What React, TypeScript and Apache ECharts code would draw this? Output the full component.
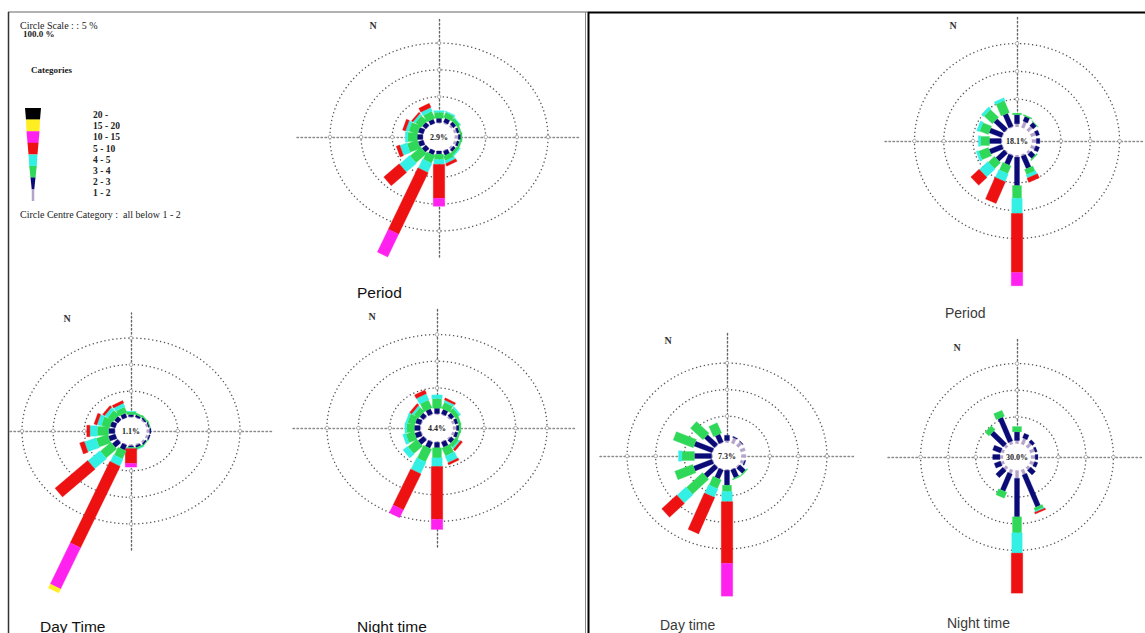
import React, { useEffect, useRef } from "react";
import * as echarts from "echarts";

// 16 wind directions, clockwise from north
const directions = ["N", "NNE", "NE", "ENE", "E", "ESE", "SE", "SSE", "S", "SSW", "SW", "WSW", "W", "WNW", "NW", "NNW"];
// wind speed categories (index = column of the frequency tables below)
const speedCategories = ["1 - 2", "2 - 3", "3 - 4", "4 - 5", "5 - 10", "10 - 15", "15 - 20", "20 -"];
const categoryColors = ["#b4a4cc", "#0b0b78", "#30d85a", "#34f0e4", "#ee1111", "#ff22ee", "#ffee22", "#000000"];
// circle scale: rings every 5 %
const ringValues = [5, 10, 15];
const centreLabels = ["2.9%", "1.1%", "4.4%", "18.1%", "7.3%", "30.0%"];
const panelTitles = ["Period", "Day Time", "Night time", "Period", "Day time", "Night time"];

// frequency (%) per direction (rows N..NNW) and per category (columns 1-2 .. 15-20)
const leftPeriod = [
  [0.2, 0.8, 1.1, 0.3, 0, 0, 0],
  [0.3, 0.8, 1.0, 0.2, 0, 0, 0],
  [0.4, 0.6, 0.6, 0.1, 0, 0, 0],
  [0.5, 0.4, 0.3, 0, 0, 0, 0],
  [0.6, 0.4, 0.2, 0, 0, 0, 0],
  [0.5, 0.4, 0.3, 0, 0, 0, 0],
  [0.4, 0.5, 0.5, 0.2, 0, 0, 0],
  [0.2, 0.8, 0.9, 0.5, 0.5, 0, 0],
  [0.1, 0.6, 1.0, 0.9, 6.3, 1.5, 0],
  [0.1, 0.8, 1.5, 1.8, 12.4, 4.6, 0],
  [0.1, 0.9, 2.4, 2.3, 3.5, 0, 0],
  [0.1, 0.9, 1.8, 1.2, 0.6, 0, 0],
  [0.1, 0.9, 1.5, 0.4, 0, 0, 0],
  [0.1, 0.9, 1.5, 0.5, 0.5, 0, 0],
  [0.1, 0.8, 1.3, 0.4, 0.3, 0, 0],
  [0.1, 0.8, 1.4, 0.7, 0.8, 0, 0],
];
const leftDay = [
  [0.2, 0.4, 0.5, 0.1, 0, 0, 0],
  [0.2, 0.4, 0.3, 0, 0, 0, 0],
  [0.3, 0.3, 0.2, 0, 0, 0, 0],
  [0.4, 0.2, 0.1, 0, 0, 0, 0],
  [0.5, 0.2, 0, 0, 0, 0, 0],
  [0.5, 0.2, 0, 0, 0, 0, 0],
  [0.4, 0.3, 0.1, 0, 0, 0, 0],
  [0.3, 0.4, 0.3, 0.1, 0, 0, 0],
  [0.3, 0.3, 0.1, 0.1, 2.8, 0.7, 0],
  [0.2, 1.0, 1.6, 1.4, 16.6, 8.4, 0.8],
  [0.2, 1.2, 2.4, 2.7, 7.4, 0, 0],
  [0.1, 1.2, 2.0, 2.0, 0.8, 0, 0],
  [0.1, 1.0, 1.8, 1.2, 0.5, 0, 0],
  [0.1, 0.9, 1.4, 0.7, 0.5, 0, 0],
  [0.1, 0.8, 1.2, 0.6, 0.4, 0, 0],
  [0.1, 0.8, 1.1, 0.7, 0.5, 0, 0],
];
const leftNight = [
  [0.2, 1.0, 1.8, 0.7, 0, 0, 0],
  [0.2, 0.9, 1.2, 0.4, 0.4, 0, 0],
  [0.3, 0.7, 0.8, 0.3, 0, 0, 0],
  [0.5, 0.5, 0.4, 0, 0, 0, 0],
  [0.6, 0.4, 0.3, 0, 0, 0, 0],
  [0.5, 0.5, 0.3, 0, 0, 0, 0],
  [0.3, 0.7, 0.7, 0.3, 0.4, 0, 0],
  [0.2, 1.0, 1.6, 1.3, 0.4, 0, 0],
  [0.2, 1.0, 1.9, 1.6, 9.9, 1.9, 0],
  [0.2, 1.2, 2.6, 2.3, 7.3, 1.6, 0],
  [0.2, 1.2, 2.0, 1.0, 0, 0, 0],
  [0.2, 1.0, 1.4, 0.5, 0, 0, 0],
  [0.2, 0.9, 1.2, 0.3, 0, 0, 0],
  [0.2, 0.9, 1.2, 0.3, 0, 0, 0],
  [0.2, 0.8, 1.0, 0.4, 0.4, 0, 0],
  [0.2, 1.0, 1.6, 1.2, 0.7, 0, 0],
];
const rightPeriod = [
  [0.6, 1.6, 0.3, 0, 0, 0, 0],
  [1.2, 0.9, 0.2, 0, 0, 0, 0],
  [1.0, 0.8, 0.1, 0, 0, 0, 0],
  [0.9, 0.6, 0, 0, 0, 0, 0],
  [0.8, 0.6, 0, 0, 0, 0, 0],
  [0.8, 0.7, 0, 0, 0, 0, 0],
  [0.5, 1.0, 0.2, 0, 0, 0, 0],
  [0.3, 2.4, 1.0, 0.6, 0.8, 0, 0],
  [0.4, 5.1, 2.3, 2.7, 10.6, 2.4, 0],
  [0.2, 1.8, 1.5, 1.5, 4.2, 0, 0],
  [0.2, 2.0, 1.5, 2.0, 2.0, 0, 0],
  [0.2, 2.3, 1.8, 0.4, 0, 0, 0],
  [0.2, 2.0, 1.5, 0.4, 0, 0, 0],
  [0.2, 2.3, 1.6, 0.5, 0, 0, 0],
  [0.2, 2.5, 2.0, 0.5, 0, 0, 0],
  [0.2, 2.5, 2.3, 0.5, 0, 0, 0],
];
const rightDay = [
  [0.4, 1.0, 0, 0, 0, 0, 0],
  [1.1, 0.2, 0, 0, 0, 0, 0],
  [1.0, 0.1, 0, 0, 0, 0, 0],
  [0.9, 0, 0, 0, 0, 0, 0],
  [0.8, 0, 0, 0, 0, 0, 0],
  [0.7, 0.2, 0, 0, 0, 0, 0],
  [0.3, 1.4, 0.2, 0, 0, 0, 0],
  [0.2, 1.6, 0.2, 0, 0, 0, 0],
  [0.2, 2.8, 1.2, 1.9, 11.6, 6.2, 0],
  [0.2, 1.8, 1.8, 1.7, 7.4, 0, 0],
  [0.2, 2.6, 4.0, 2.2, 3.7, 0, 0],
  [0.2, 3.5, 3.4, 0, 0, 0, 0],
  [0.2, 3.0, 2.2, 0.6, 0, 0, 0],
  [0.2, 3.4, 3.8, 0, 0, 0, 0],
  [0.2, 2.5, 3.1, 0, 0, 0, 0],
  [0.2, 1.6, 2.1, 0, 0, 0, 0],
];
const rightNight = [
  [0.6, 1.6, 1.0, 0, 0, 0, 0],
  [1.2, 0.9, 0, 0, 0, 0, 0],
  [1.0, 0.6, 0, 0, 0, 0, 0],
  [0.9, 0.4, 0, 0, 0, 0, 0],
  [0.8, 0.5, 0, 0, 0, 0, 0],
  [0.8, 0.6, 0, 0, 0, 0, 0],
  [0.6, 1.2, 0, 0, 0, 0, 0],
  [1.0, 6.5, 0.6, 0.2, 0.3, 0, 0],
  [1.5, 7.2, 3.0, 3.8, 7.5, 0, 0],
  [0.8, 3.5, 1.2, 0, 0, 0, 0],
  [0.7, 1.8, 0, 0, 0, 0, 0],
  [0.6, 1.2, 0, 0, 0, 0, 0],
  [0.6, 1.3, 0, 0, 0, 0, 0],
  [0.6, 1.5, 0, 0, 0, 0, 0],
  [0.6, 3.3, 1.0, 0, 0, 0, 0],
  [0.6, 4.8, 1.2, 0, 0, 0, 0],
];
const panelTables = [leftPeriod, leftDay, leftNight, rightPeriod, rightDay, rightNight];

// ---- layout (pixels) ----
const HOLE = 2.5; // calm circle radius, in % units
const barWidths = [3, 5, 9, 10.5, 11.5, 11.5, 11.5, 11.5];
const panelLayout = [
  { cx: 439, cy: 137, sx: 6.23, sy: 5.37, l: 142, r: 141, u: 119, d: 120, nx: 373, ny: 25, tx: 357, ty: 292, right: false },
  { cx: 131, cy: 431, sx: 6.23, sy: 5.31, l: 121, r: 141, u: 118, d: 119, nx: 67, ny: 318, tx: 40, ty: 626, right: false },
  { cx: 437, cy: 428, sx: 6.29, sy: 5.34, l: 144, r: 140, u: 120, d: 119, nx: 372, ny: 316, tx: 357, ty: 626, right: false },
  { cx: 1017, cy: 141, sx: 5.86, sy: 5.57, l: 132, r: 128, u: 126, d: 130, nx: 953, ny: 25, tx: 945, ty: 313, right: true },
  { cx: 727, cy: 456, sx: 5.71, sy: 5.31, l: 127, r: 128, u: 123, d: 123, nx: 668, ny: 340, tx: 660, ty: 625, right: true },
  { cx: 1017, cy: 457, sx: 5.51, sy: 5.34, l: 129, r: 126, u: 120, d: 120, nx: 957, ny: 347, tx: 947, ty: 623, right: true },
];

const SERIF = '"Liberation Serif", "DejaVu Serif", serif';
const SANS = '"Liberation Sans", Arial, sans-serif';

function buildSegments(rows: number[][]) {
  const out: number[][] = [];
  rows.forEach((row, d) => {
    let acc = 0;
    row.forEach((v, c) => {
      if (v > 0) out.push([d, acc, acc + v, c]);
      acc += v;
    });
  });
  return out;
}

const renderBar = (params: any, api: any) => {
  const d = api.value(0);
  const s = api.value(1);
  const e = api.value(2);
  const c = api.value(3);
  const a = (d * Math.PI) / 8;
  const r1 = HOLE + s;
  const r2 = HOLE + e;
  const p1 = api.coord([r1 * Math.sin(a), r1 * Math.cos(a)]);
  const p2 = api.coord([r2 * Math.sin(a), r2 * Math.cos(a)]);
  const dx = p2[0] - p1[0];
  const dy = p2[1] - p1[1];
  const len = Math.hypot(dx, dy) || 1;
  const hw = barWidths[c] / 2;
  const nx = (-dy / len) * hw;
  const ny = (dx / len) * hw;
  return {
    type: "polygon",
    shape: {
      points: [
        [p1[0] + nx, p1[1] + ny],
        [p2[0] + nx, p2[1] + ny],
        [p2[0] - nx, p2[1] - ny],
        [p1[0] - nx, p1[1] - ny],
      ],
    },
    style: { fill: categoryColors[c], stroke: categoryColors[c], lineWidth: 0.3 },
  };
};

const renderRing = (params: any, api: any) => {
  const r = HOLE + api.value(0);
  const c = api.coord([0, 0]);
  const px = api.coord([r, 0]);
  const py = api.coord([0, r]);
  const rx = Math.abs(px[0] - c[0]);
  const ry = Math.abs(c[1] - py[1]);
  const dot = (x: number, y: number) => ({
    type: "circle",
    shape: { cx: x, cy: y, r: 1.8 },
    style: { fill: "#fff", stroke: "#999", lineWidth: 0.9 },
  });
  return {
    type: "group",
    children: [
      {
        type: "ellipse",
        shape: { cx: c[0], cy: c[1], rx, ry },
        style: { fill: "none", stroke: "#555", lineWidth: 1.3, lineDash: [1.3, 2.7] },
      },
      dot(c[0] - rx, c[1]),
      dot(c[0] + rx, c[1]),
      dot(c[0], c[1] - ry),
      dot(c[0], c[1] + ry),
    ],
  };
};

const makeRenderCentre = (label: string) => (params: any, api: any) => {
  const c = api.coord([0, 0]);
  const p = api.coord([HOLE, HOLE]);
  return {
    type: "group",
    children: [
      {
        type: "ellipse",
        shape: { cx: c[0], cy: c[1], rx: Math.abs(p[0] - c[0]), ry: Math.abs(p[1] - c[1]) },
        style: { fill: "#ffffff", stroke: "none" },
      },
      {
        type: "text",
        x: c[0],
        y: c[1],
        style: {
          text: label,
          align: "center",
          verticalAlign: "middle",
          fontSize: 8,
          fontWeight: "bold",
          fontFamily: SERIF,
          fill: "#222",
        },
      },
    ],
  };
};

function buildOption() {
  const grid = panelLayout.map((p) => ({
    left: p.cx - p.l,
    top: p.cy - p.u,
    width: p.l + p.r,
    height: p.u + p.d,
    containLabel: false,
  }));
  const axisLine = (color: string) => ({
    show: true,
    onZero: true,
    lineStyle: { color, width: 1.4, type: [1.5, 2.5] as any },
  });
  const xAxis = panelLayout.map((p, i) => ({
    type: "value",
    gridIndex: i,
    min: -p.l / p.sx,
    max: p.r / p.sx,
    axisLine: axisLine("#8a8a8a"),
    axisTick: { show: false },
    axisLabel: { show: false },
    splitLine: { show: false },
  }));
  const yAxis = panelLayout.map((p, i) => ({
    type: "value",
    gridIndex: i,
    min: -p.d / p.sy,
    max: p.u / p.sy,
    axisLine: axisLine("#666"),
    axisTick: { show: false },
    axisLabel: { show: false },
    splitLine: { show: false },
  }));
  const series: any[] = [];
  panelTables.forEach((table, i) => {
    series.push({
      type: "custom",
      name: "rings" + i,
      xAxisIndex: i,
      yAxisIndex: i,
      z: 1,
      silent: true,
      data: ringValues.map((v) => [v, 0]),
      renderItem: renderRing,
    });
    series.push({
      type: "custom",
      name: "rose" + i,
      xAxisIndex: i,
      yAxisIndex: i,
      z: 3,
      data: buildSegments(table),
      dimensions: ["direction", "start", "end", "category"],
      renderItem: renderBar,
    });
    series.push({
      type: "custom",
      name: "centre" + i,
      xAxisIndex: i,
      yAxisIndex: i,
      z: 4,
      silent: true,
      data: [[0, 0]],
      renderItem: makeRenderCentre(centreLabels[i]),
    });
  });

  const graphic: any[] = [];
  // table borders
  graphic.push({ type: "line", shape: { x1: 8, y1: 12, x2: 588, y2: 12 }, style: { stroke: "#666", lineWidth: 1.2 } });
  graphic.push({ type: "line", shape: { x1: 8.5, y1: 12, x2: 8.5, y2: 633 }, style: { stroke: "#333", lineWidth: 1.5 } });
  graphic.push({ type: "line", shape: { x1: 585.5, y1: 12, x2: 585.5, y2: 633 }, style: { stroke: "#888", lineWidth: 1 } });
  graphic.push({ type: "line", shape: { x1: 588.5, y1: 12, x2: 588.5, y2: 633 }, style: { stroke: "#000", lineWidth: 2 } });
  graphic.push({ type: "line", shape: { x1: 588, y1: 12.5, x2: 1145, y2: 12.5 }, style: { stroke: "#000", lineWidth: 2.2 } });

  const txt = (text: string, x: number, y: number, size: number, opts: any = {}) => ({
    type: "text",
    x,
    y,
    style: {
      text,
      fontSize: size,
      fontFamily: opts.family || SERIF,
      fontWeight: opts.weight || "normal",
      fill: opts.fill || "#222",
      align: opts.align || "left",
      verticalAlign: "middle",
      textAlign: opts.align || "left",
      textVerticalAlign: "middle",
    },
  });

  // legend block
  graphic.push(txt("Circle Scale : : 5 %", 20, 25, 10));
  graphic.push(txt("100.0 %", 23, 34, 9, { weight: "bold" }));
  graphic.push(txt("Categories", 31, 70, 9, { weight: "bold" }));
  const legendOrder = speedCategories.map((_, i) => speedCategories.length - 1 - i);
  const legendWidths = [16, 14, 13, 11, 9, 7.5, 5, 2.5];
  legendOrder.forEach((c, k) => {
    const top = 108 + k * 11.6;
    const wTop = legendWidths[k];
    const wBot = legendWidths[Math.min(k + 1, legendWidths.length - 1)];
    const cx = 33;
    graphic.push({
      type: "polygon",
      shape: {
        points: [
          [cx - wTop / 2, top],
          [cx + wTop / 2, top],
          [cx + wBot / 2, top + 11.8],
          [cx - wBot / 2, top + 11.8],
        ],
      },
      style: { fill: categoryColors[c] },
    });
    graphic.push(txt(speedCategories[c], 93, 115 + k * 11.2, 9.5, { weight: "bold" }));
  });
  graphic.push(txt("Circle Centre Category :  all below 1 - 2", 20, 214, 10));

  // N labels and captions
  panelLayout.forEach((p, i) => {
    graphic.push(txt("N", p.nx, p.ny, 10, { weight: "bold", align: "center", fill: "#333" }));
    graphic.push(
      txt(panelTitles[i], p.tx, p.ty, p.right ? 14 : 15.5, {
        family: SANS,
        fill: p.right ? "#3a3a3a" : "#111",
      })
    );
  });

  return {
    animation: false,
    backgroundColor: "#ffffff",
    grid,
    xAxis,
    yAxis,
    series,
    graphic,
  };
}

export default function App() {
  const ref = useRef<HTMLDivElement>(null);
  useEffect(() => {
    if (!ref.current) return;
    const chart = echarts.init(ref.current, undefined, { renderer: "svg" });
    chart.setOption(buildOption() as any);
    return () => chart.dispose();
  }, []);
  return (
    <div
      ref={ref}
      style={{ position: "fixed", left: 0, top: 0, width: 1145, height: 633, background: "#fff" }}
    />
  );
}
